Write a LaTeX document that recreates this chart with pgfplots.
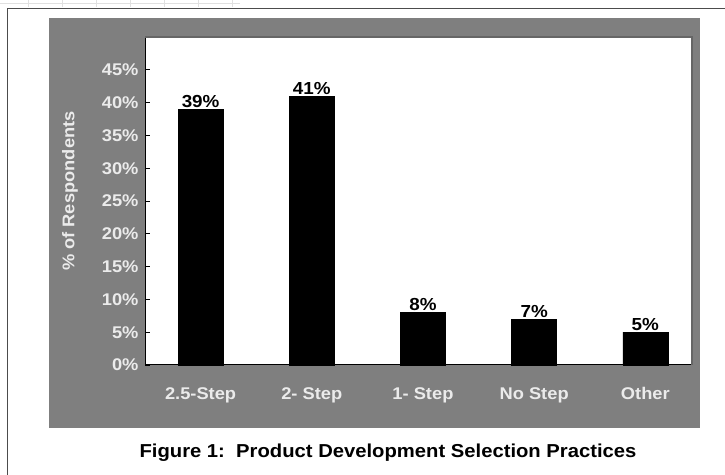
\documentclass[border=0pt]{standalone}
\usepackage{pgfplots}
\pgfplotsset{compat=1.18}
\usepackage{fontspec}
\setmainfont{Liberation Sans}[FakeStretch=1.08]
\definecolor{panel}{HTML}{7F7F7F}
\definecolor{lighttxt}{HTML}{EBEBEB}
\begin{document}
\begin{tikzpicture}[x=1bp,y=1bp]
\path[use as bounding box] (0,0) rectangle (725,475);
% faint spreadsheet grid at top
\draw[black!12, line width=0.8bp] (0,472) -- (240,472);
\foreach \xx in {28,62,96,130,164,198,232} \draw[black!12] (\xx,468) -- (\xx,475);
% outer frame
\draw[black!70, line width=0.9bp] (7,0) -- (7,467) -- (725,467);
% gray panel
\fill[panel] (49,47) rectangle (700,457);
% caption
\node[font=\bfseries\fontsize{18.8}{21}\selectfont] at (388,22) {Figure 1:\ \ Product Development Selection Practices};
\begin{axis}[
  at={(145bp,110bp)}, anchor=south west,
  scale only axis, width=547bp, height=328bp,
  axis background/.style={fill=white},
  xmin=-0.5, xmax=4.42, ymin=0, ymax=50,
  axis x line*=bottom, axis y line*=left,
  axis line style={black, line width=1bp},
  ytick={0,5,...,45},
  yticklabels={0\%,5\%,10\%,15\%,20\%,25\%,30\%,35\%,40\%,45\%},
  xtick={0,1,2,3,4},
  xticklabels={2.5-Step,2- Step,1- Step,No Step,Other},
  major x tick style={draw=none},
  extra x ticks={0.5,1.5,2.5,3.5},
  extra x tick labels={},
  extra x tick style={tick style={draw=black, line width=0.8bp}},
  tick align=inside,
  major tick length=5bp,
  ytick style={black, line width=0.8bp},
  ticklabel style={font=\bfseries\fontsize{17}{19}\selectfont, text=lighttxt},
  yticklabel style={xshift=-3bp},
  xticklabel style={yshift=-14bp},
  ylabel={\% of Respondents},
  ylabel style={font=\bfseries\fontsize{17}{19}\selectfont, text=lighttxt, at={(axis description cs:-0.137,0.53)}, anchor=center},
  ybar, bar width=45bp,
  point meta=explicit symbolic,
  nodes near coords,
  nodes near coords style={font=\bfseries\fontsize{17.5}{19}\selectfont, text=black, inner sep=1.5bp},
  clip=false,
]
\addplot[fill=black, draw=black] coordinates {(0,39) [39\%] (1,41) [41\%] (2,8) [8\%] (3,7) [7\%] (4,5) [5\%]};
\draw[black!60, line width=1.2bp] (axis cs:-0.5,50) -- (axis cs:4.42,50) -- (axis cs:4.42,0);
\end{axis}
\end{tikzpicture}
\end{document}
